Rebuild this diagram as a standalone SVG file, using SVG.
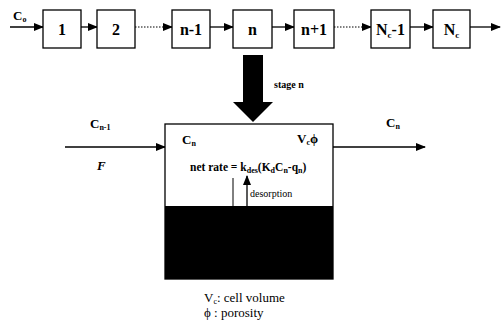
<svg xmlns="http://www.w3.org/2000/svg" width="502" height="331" viewBox="0 0 502 331">
<style>
.box{fill:#fff;stroke:#000;stroke-width:1.3}
.lbl{font-family:'Liberation Serif','Times New Roman','DejaVu Serif',serif;font-weight:bold;fill:#000}
.reg{font-family:'Liberation Serif','Times New Roman','DejaVu Serif',serif;fill:#000}
.big{font-size:16px}
.med{font-size:13px}
.sm{font-size:10px}
.ln{stroke:#000;stroke-width:1.3;fill:none}
.dot{stroke:#000;stroke-width:1;stroke-dasharray:1.5 1.5;fill:none}
</style>
<defs>
<marker id="ah" markerWidth="10" markerHeight="8" refX="9" refY="4" orient="auto" markerUnits="userSpaceOnUse">
<path d="M0,0 L10,4 L0,8 Z" fill="#000"/>
</marker>
</defs>
<rect width="502" height="331" fill="#fff"/>
<g id="connectors">
<line class="ln" x1="10" y1="27" x2="43" y2="27" marker-end="url(#ah)"/>
<line class="ln" x1="81" y1="27" x2="97" y2="27" marker-end="url(#ah)"/>
<line class="dot" x1="135" y1="27" x2="164" y2="27"/>
<line class="ln" x1="163" y1="27" x2="172" y2="27" marker-end="url(#ah)"/>
<line class="ln" x1="210" y1="27" x2="233" y2="27" marker-end="url(#ah)"/>
<line class="ln" x1="272" y1="27" x2="294" y2="27" marker-end="url(#ah)"/>
<line class="dot" x1="334" y1="27" x2="363" y2="27"/>
<line class="ln" x1="362" y1="27" x2="371" y2="27" marker-end="url(#ah)"/>
<line class="ln" x1="410" y1="27" x2="433" y2="27" marker-end="url(#ah)"/>
<line class="ln" x1="470" y1="27" x2="500" y2="27" marker-end="url(#ah)"/>
<path d="M243,55 H263 V102 H273 L253,122 L233,102 H243 Z" fill="#000"/>
<line class="ln" x1="65" y1="147" x2="165" y2="147" marker-end="url(#ah)"/>
<line class="ln" x1="333" y1="147" x2="425" y2="147" marker-end="url(#ah)"/>
</g>
<text class="lbl med" x="13" y="20">C<tspan font-size="8" dy="2">o</tspan></text>
<g id="n1"><rect class="box" x="43" y="10" width="38" height="38"/><text class="lbl big" x="62" y="35" text-anchor="middle">1</text></g>
<g id="n2"><rect class="box" x="97" y="10" width="38" height="38"/><text class="lbl big" x="116" y="35" text-anchor="middle">2</text></g>
<g id="nm1"><rect class="box" x="172" y="10" width="38" height="38"/><text class="lbl big" x="191" y="35" text-anchor="middle">n-1</text></g>
<g id="nn"><rect class="box" x="233" y="10" width="39" height="38"/><text class="lbl big" x="252.5" y="35" text-anchor="middle">n</text></g>
<g id="np1"><rect class="box" x="294" y="10" width="40" height="38"/><text class="lbl big" x="314" y="35" text-anchor="middle">n+1</text></g>
<g id="ncm1"><rect class="box" x="371" y="10" width="39" height="38"/><text class="lbl big" x="390.5" y="35" text-anchor="middle">N<tspan font-size="9" dy="3">c</tspan><tspan dy="-3">-1</tspan></text></g>
<g id="nc"><rect class="box" x="433" y="10" width="37" height="38"/><text class="lbl big" x="451.5" y="35" text-anchor="middle">N<tspan font-size="9" dy="3">c</tspan></text></g>
<text class="lbl sm" x="274" y="88">stage n</text>
<g id="stage">
<rect class="box" x="165" y="124" width="168" height="155"/>
<rect x="165" y="206" width="168" height="73" fill="#000"/>
<text class="lbl med" x="182" y="144">C<tspan font-size="8" dy="2">n</tspan></text>
<text class="lbl med" x="297" y="143">V<tspan font-size="8" dy="2">c</tspan><tspan dy="-2">ϕ</tspan></text>
<text class="lbl" font-size="11.5" x="190" y="171">net rate = k<tspan font-size="8" dy="2">des</tspan><tspan dy="-2">(K</tspan><tspan font-size="8" dy="2">d</tspan><tspan dy="-2">C</tspan><tspan font-size="8" dy="2">n</tspan><tspan dy="-2">-q</tspan><tspan font-size="8" dy="2">n</tspan><tspan dy="-2">)</tspan></text>
<line x1="233" y1="178" x2="233" y2="206" stroke="#000" stroke-width="1"/>
<line x1="247" y1="206" x2="247" y2="176" stroke="#000" stroke-width="1.3" marker-end="url(#ah)"/>
<text class="reg sm" x="250" y="197">desorption</text>
</g>
<text class="lbl med" x="90" y="128">C<tspan font-size="8" dy="2">n-1</tspan></text>
<text class="lbl med" x="97" y="170" font-style="italic">F</text>
<text class="lbl med" x="386" y="127">C<tspan font-size="8" dy="2">n</tspan></text>
<text class="reg" x="204" y="302" font-size="13">V<tspan font-size="8" dy="2">c</tspan><tspan dy="-2">: cell volume</tspan></text>
<text class="reg" x="204" y="317" font-size="13">ϕ : porosity</text>
</svg>
